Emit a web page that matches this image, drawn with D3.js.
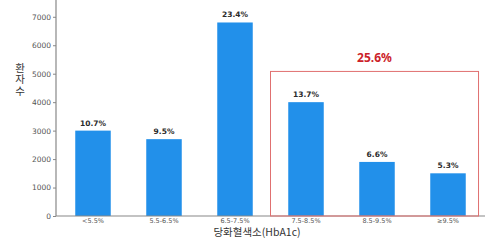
<!DOCTYPE html>
<html>
<head>
<meta charset="utf-8">
<script src="https://cdn.jsdelivr.net/npm/d3@7"></script>
<style>
  body { margin: 0; background: #fff; }
  svg { display: block; }
</style>
</head>
<body>
<div id="chart"></div>
<script>
var categories = ["<5.5%", "5.5-6.5%", "6.5-7.5%", "7.5-8.5%", "8.5-9.5%", "≥9.5%"];
var patients = [3000, 2700, 6800, 4000, 1900, 1500];
var shares = ["10.7%", "9.5%", "23.4%", "13.7%", "6.6%", "5.3%"];
var yTicks = [0, 1000, 2000, 3000, 4000, 5000, 6000, 7000];
var highlightFrom = 3;
var highlightLabel = "25.6%";

var width = 497, height = 249;
var left = 56, right = 485, bottom = 216;

var svg = d3.select("#chart").append("svg")
  .attr("width", width)
  .attr("height", height);

var x = d3.scaleBand()
  .domain(categories)
  .range([57.5, 483.5])
  .paddingInner(0.5)
  .paddingOuter(0.25);

var y = d3.scaleLinear()
  .domain([0, 7590])
  .range([bottom, 0]);

// bars
svg.selectAll("rect.bar")
  .data(patients)
  .enter().append("rect")
  .attr("class", "bar")
  .attr("x", function(d, i){ return x(categories[i]); })
  .attr("y", function(d){ return y(d); })
  .attr("width", x.bandwidth())
  .attr("height", function(d){ return bottom - y(d); })
  .attr("fill", "#2290ea");

// percentage labels
svg.selectAll("text.share")
  .data(patients)
  .enter().append("text")
  .attr("class", "share")
  .attr("x", function(d, i){ return x(categories[i]) + x.bandwidth() / 2; })
  .attr("y", function(d){ return y(d) - 5; })
  .attr("text-anchor", "middle")
  .attr("font-family", "DejaVu Sans, sans-serif")
  .attr("font-weight", "bold")
  .attr("font-size", 7.5)
  .attr("fill", "#2a2a2a")
  .text(function(d, i){ return shares[i]; });

// y axis
var yAxis = svg.append("g")
  .attr("transform", "translate(" + left + ",0)")
  .call(d3.axisLeft(y).tickValues(yTicks).tickSize(3).tickPadding(2).tickFormat(d3.format("d")));
yAxis.select(".domain").remove();
yAxis.selectAll("line").attr("stroke", "#888");
yAxis.selectAll("text")
  .attr("font-family", "DejaVu Sans, sans-serif")
  .attr("font-size", 7.5)
  .attr("fill", "#555");
svg.append("line")
  .attr("x1", left).attr("x2", left)
  .attr("y1", 0).attr("y2", bottom)
  .attr("stroke", "#888").attr("stroke-width", 1.2);

// x axis
var xAxis = svg.append("g")
  .attr("transform", "translate(0," + bottom + ")")
  .call(d3.axisBottom(x).tickSize(0).tickPadding(2));
xAxis.select(".domain").remove();
xAxis.selectAll("text")
  .attr("font-family", "DejaVu Sans, sans-serif")
  .attr("font-size", 6.5)
  .attr("fill", "#555");
svg.append("line")
  .attr("x1", left).attr("x2", right)
  .attr("y1", bottom).attr("y2", bottom)
  .attr("stroke", "#888").attr("stroke-width", 1.2);

// highlight box
var step = x.step();
var boxX0 = x(categories[highlightFrom]) - 0.25 * step;
var boxX1 = x(categories[categories.length - 1]) + x.bandwidth() + 0.18 * step;
var boxTop = y(5080);
svg.append("rect")
  .attr("x", boxX0)
  .attr("y", boxTop)
  .attr("width", boxX1 - boxX0)
  .attr("height", bottom - boxTop)
  .attr("fill", "none")
  .attr("stroke", "#e07070")
  .attr("stroke-width", 1);
svg.append("text")
  .attr("x", (boxX0 + boxX1) / 2)
  .attr("y", boxTop - 9)
  .attr("text-anchor", "middle")
  .attr("font-family", "Noto Sans, sans-serif")
  .attr("font-weight", "bold")
  .attr("font-size", 12)
  .attr("fill", "#cc2229")
  .text(highlightLabel);

// axis titles
svg.append("text")
  .attr("x", 257)
  .attr("y", 236)
  .attr("text-anchor", "middle")
  .attr("font-family", "Noto Sans CJK KR, sans-serif")
  .attr("font-size", 10.5)
  .attr("fill", "#333")
  .text("당화혈색소(HbA1c)");

// y title, stacked upright
svg.append("text")
  .attr("x", 20)
  .attr("y", 80)
  .attr("text-anchor", "middle")
  .style("writing-mode", "vertical-rl")
  .style("text-orientation", "upright")
  .attr("font-family", "Noto Sans CJK KR, sans-serif")
  .attr("font-size", 10.5)
  .attr("letter-spacing", 1)
  .attr("fill", "#333")
  .text("환자 수".replace(" ", ""));
</script>
</body>
</html>
